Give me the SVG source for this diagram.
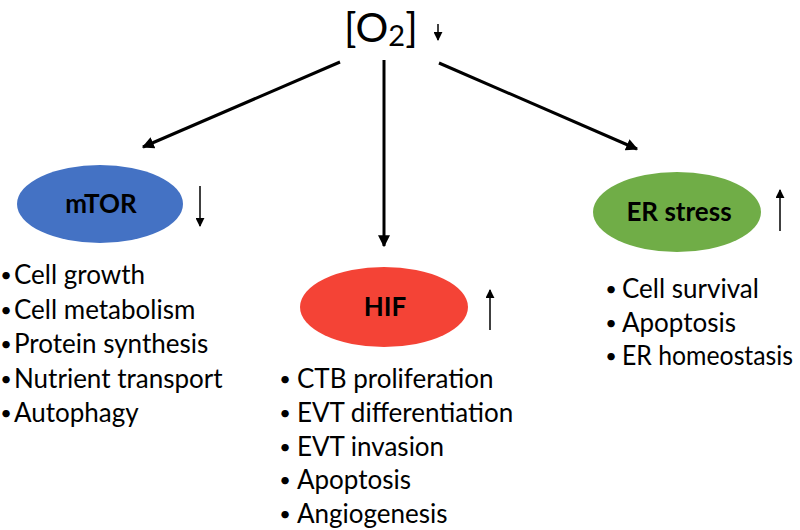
<svg xmlns="http://www.w3.org/2000/svg" width="800" height="530" viewBox="0 0 800 530">
<defs>
<style>
.t{font-family:Lato,"Open Sans","Liberation Sans",sans-serif;fill:#000}
.li{font-size:26px}
.bu{font-size:20px;text-anchor:middle}
.nl{font-size:26px;font-weight:bold;text-anchor:middle}
.conn{stroke:#000;stroke-width:3;fill:none}
.ind{stroke:#000;stroke-width:1.5;fill:none}
</style>
<marker id="ah" viewBox="0 0 10 10" refX="9" refY="5" markerWidth="4" markerHeight="4" orient="auto" markerUnits="strokeWidth">
<path d="M0,0 L10,5 L0,10 z" fill="#000"/>
</marker>
<marker id="ahs" viewBox="0 0 10 10" refX="9" refY="5" markerWidth="6" markerHeight="6" orient="auto" markerUnits="strokeWidth">
<path d="M0,0 L10,5 L0,10 z" fill="#000"/>
</marker>
</defs>
<rect width="800" height="530" fill="#fff"/>

<g id="o2">
<text class="t" x="344" y="42" font-size="41">[O<tspan font-size="29" dy="4">2</tspan><tspan dy="-4">]</tspan></text>
<line class="ind" x1="438" y1="24" x2="438" y2="40" marker-end="url(#ahs)"/>
</g>

<g id="connectors">
<line class="conn" x1="340" y1="62" x2="143" y2="147" marker-end="url(#ah)"/>
<line class="conn" x1="384" y1="60" x2="384" y2="246" marker-end="url(#ah)"/>
<line class="conn" x1="439" y1="63" x2="637" y2="149" marker-end="url(#ah)"/>
</g>

<g id="mtor">
<ellipse cx="100" cy="204" rx="83" ry="39" fill="#4472C4"/>
<text class="t nl" x="101" y="213">mTOR</text>
<line class="ind" x1="200" y1="186" x2="200" y2="226" marker-end="url(#ahs)"/>
<text class="t bu" x="6" y="282">•</text>
<text class="t li" x="14" y="284">Cell growth</text>
<text class="t bu" x="6" y="316.5">•</text>
<text class="t li" x="14" y="318.5">Cell metabolism</text>
<text class="t bu" x="6" y="351">•</text>
<text class="t li" x="14" y="353">Protein synthesis</text>
<text class="t bu" x="6" y="385.5">•</text>
<text class="t li" x="14" y="387.5">Nutrient transport</text>
<text class="t bu" x="6" y="420">•</text>
<text class="t li" x="14" y="422">Autophagy</text>
</g>

<g id="hif">
<ellipse cx="384" cy="307" rx="84" ry="40" fill="#F44336"/>
<text class="t nl" x="385" y="316">HIF</text>
<line class="ind" x1="490" y1="330" x2="490" y2="290" marker-end="url(#ahs)"/>
<text class="t bu" x="285" y="386">•</text>
<text class="t li" x="297" y="388">CTB proliferation</text>
<text class="t bu" x="285" y="420">•</text>
<text class="t li" x="297" y="422">EVT differentiation</text>
<text class="t bu" x="285" y="453.5">•</text>
<text class="t li" x="297" y="455.5">EVT invasion</text>
<text class="t bu" x="285" y="487">•</text>
<text class="t li" x="297" y="489">Apoptosis</text>
<text class="t bu" x="285" y="520.5">•</text>
<text class="t li" x="297" y="522.5">Angiogenesis</text>
</g>

<g id="er">
<ellipse cx="677" cy="212" rx="84" ry="40" fill="#70AD47"/>
<text class="t nl" x="679" y="221">ER stress</text>
<line class="ind" x1="780" y1="231" x2="780" y2="190" marker-end="url(#ahs)"/>
<text class="t bu" x="611" y="296">•</text>
<text class="t li" x="622" y="298">Cell survival</text>
<text class="t bu" x="611" y="329.5">•</text>
<text class="t li" x="622" y="331.5">Apoptosis</text>
<text class="t bu" x="611" y="363">•</text>
<text class="t li" x="622" y="365" textLength="171" lengthAdjust="spacingAndGlyphs">ER homeostasis</text>
</g>
</svg>
